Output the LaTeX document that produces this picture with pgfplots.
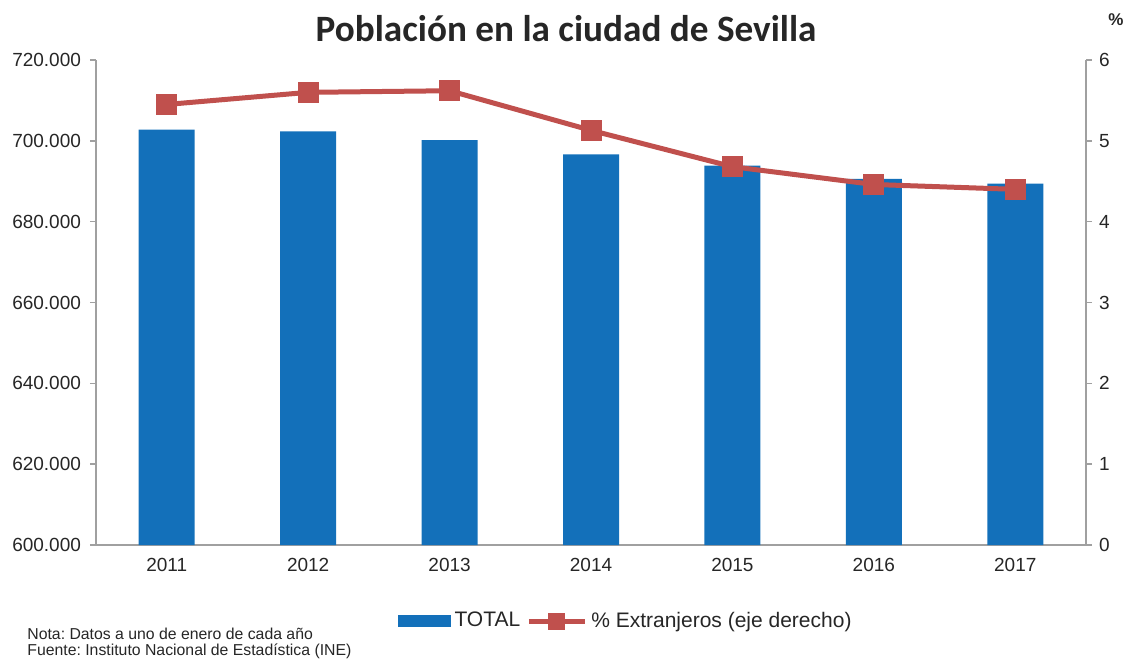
\documentclass[border=0pt]{standalone}
\usepackage{fontspec}
\setmainfont{Liberation Sans}
\newfontfamily\titlefont{Carlito}
\usepackage{pgfplots}
\pgfplotsset{compat=1.18}
\definecolor{barblue}{HTML}{1370BA}
\definecolor{linered}{HTML}{C0504D}
\definecolor{axgrey}{HTML}{A0A0A0}
\definecolor{txt}{HTML}{262626}
\frenchspacing
\begin{document}
\begin{tikzpicture}
\useasboundingbox (0,0) rectangle (563.5pt,330.5pt);
\node[font=\titlefont\bfseries\fontsize{18.6}{20}\selectfont, text=txt] at (283pt,316pt) {Población en la ciudad de Sevilla};
\node[font=\bfseries\fontsize{8.5}{10}\selectfont, text=txt] at (558pt,320.5pt) {\%};
\node[font=\fontsize{7.9}{8}\selectfont, text=txt, anchor=north west, align=left, inner sep=0pt] at (13.5pt,16.8pt) {Nota: Datos a uno de enero de cada año\\Fuente: Instituto Nacional de Estadística (INE)};
\begin{axis}[
  at={(48pt,58pt)}, anchor=south west,
  scale only axis, width=495pt, height=242.5pt,
  xmin=-0.5, xmax=6.5, ymin=600000, ymax=720000,
  axis x line*=bottom, axis y line*=left,
  axis line style={axgrey, line width=0.8pt},
  xtick={0,...,6},
  xticklabels={2011,2012,2013,2014,2015,2016,2017},
  x tick style={draw=none},
  extra x ticks={-0.5,0.5,...,6.5},
  extra x tick labels={},
  extra x tick style={tick style={draw=axgrey, line width=0.8pt}, major tick length=3pt, tick align=outside},
  ytick={600000,620000,...,720000},
  scaled y ticks=false,
  y tick style={axgrey, line width=0.8pt},
  tick align=outside, major tick length=3pt,
  yticklabel style={font=\fontsize{9.5}{11}\selectfont, text=txt, xshift=-1pt},
  xticklabel style={font=\fontsize{9.5}{11}\selectfont, text=txt},
  /pgf/number format/.cd, fixed, 1000 sep={.}, assume math mode=true,
  /pgfplots/.cd,
  ybar, bar width=28pt,
]
\addplot[fill=barblue, draw=none] coordinates {(0,702801) (1,702355) (2,700169) (3,696676) (4,693878) (5,690566) (6,689434)};
\end{axis}
\begin{axis}[
  at={(48pt,58pt)}, anchor=south west,
  scale only axis, width=495pt, height=242.5pt,
  xmin=-0.5, xmax=6.5, ymin=0, ymax=6,
  axis x line=none, axis y line*=right,
  axis line style={axgrey, line width=0.8pt},
  ytick={0,...,6},
  y tick style={axgrey, line width=0.8pt},
  tick align=outside, major tick length=3pt,
  yticklabel style={font=\fontsize{9.5}{11}\selectfont, text=txt},
  /pgf/number format/assume math mode=true,
  legend columns=2,
  legend style={at={(axis description cs:0.536,-0.157)}, anchor=center, draw=none, fill=none, font=\fontsize{10.5}{12}\selectfont, text=txt, /tikz/every even column/.append style={column sep=1pt}},
]
\addlegendimage{legend image code/.code={\fill[barblue] (0pt,-2.8pt) rectangle (26pt,2.8pt);}}
\addlegendentry{TOTAL}
\addplot[linered, line width=2.5pt, mark=square*, mark size=5pt, mark options={fill=linered, draw=linered, line width=0.5pt},
  legend image code/.code={\draw[linered, line width=2.5pt] (0pt,0pt) -- (28pt,0pt); \fill[linered] (11pt,-3pt) rectangle (17pt,3pt);}] coordinates {(0,5.45) (1,5.60) (2,5.62) (3,5.13) (4,4.68) (5,4.46) (6,4.40)};
\addlegendentry{\% Extranjeros (eje derecho)}
\end{axis}
\end{tikzpicture}
\end{document}
